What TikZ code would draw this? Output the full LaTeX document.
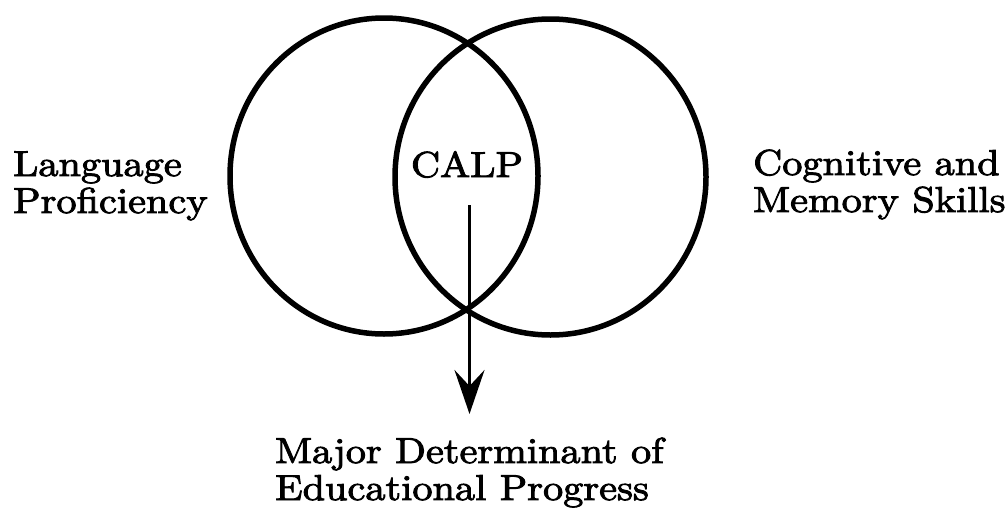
\documentclass[tikz,border=0pt]{standalone}
\usepackage{fontspec}
\setmainfont{lmroman10-regular.otf}[FakeStretch=1.12, FakeBold=2.5]
\usetikzlibrary{shapes.geometric,arrows.meta}
\begin{document}
\begin{tikzpicture}[x=1pt,y=-1pt,
  ring/.style={ellipse, draw, line width=5.5pt, inner sep=0pt},
  label/.style={inner sep=0pt, align=left, font=\fontsize{36}{37}\selectfont},
  flow/.style={line width=3.6pt, -{Stealth[length=44pt,width=30pt,inset=16pt]}}]
  \useasboundingbox (0,0) rectangle (1008,514);
  \node[ring, minimum width=308pt, minimum height=316pt] (lang) at (384,176) {};
  \node[ring, minimum width=311pt, minimum height=316pt] (cog) at (550.5,177) {};
  \node[label, anchor=base] (calp) at (467,177) {CALP};
  \node[label, anchor=base west] (lp) at (13,213) {Language\\Proficiency};
  \node[label, anchor=base west] (cm) at (753,212) {Cognitive and\\Memory Skills};
  \node[label, anchor=base west] (major) at (275,500) {Major Determinant of\\Educational Progress};
  \coordinate (astart) at (469.5,205);
  \coordinate (aend) at (469.5,414);
  \draw[flow] (astart) -- (aend);
\end{tikzpicture}
\end{document}
